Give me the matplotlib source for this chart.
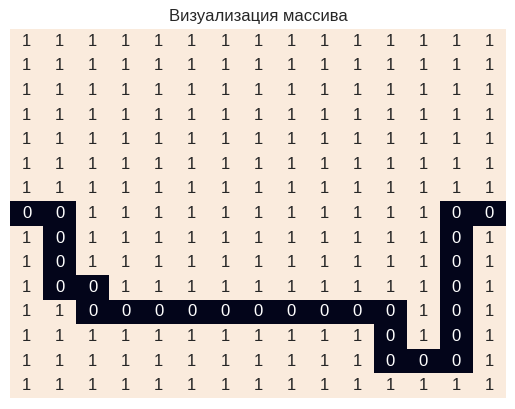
import numpy as np
import matplotlib
matplotlib.use("Agg")
import matplotlib.pyplot as plt
import seaborn as sns

# grid values (15 x 15)
zero_cells = [
    (7, 0), (7, 1), (7, 13), (7, 14),
    (8, 1), (8, 13),
    (9, 1), (9, 13),
    (10, 1), (10, 2), (10, 13),
    (11, 2), (11, 3), (11, 4), (11, 5), (11, 6), (11, 7), (11, 8),
    (11, 9), (11, 10), (11, 11), (11, 13),
    (12, 11), (12, 13),
    (13, 11), (13, 12), (13, 13),
]
grid = np.ones((15, 15), dtype=int)
for r, c in zero_cells:
    grid[r, c] = 0

title = "Визуализация массива"

sns.set_theme()
plt.rcParams['font.family'] = ['Liberation Sans', 'DejaVu Sans']

fig = plt.figure(figsize=(5.15, 4.09), dpi=100)
ax = fig.add_axes([10 / 515, 11 / 409, 496 / 515, 369 / 409])
sns.heatmap(grid, annot=True, cbar=False, xticklabels=False,
            yticklabels=False, ax=ax)
ax.set_title(title)

fig.savefig("out.png", dpi=100)
